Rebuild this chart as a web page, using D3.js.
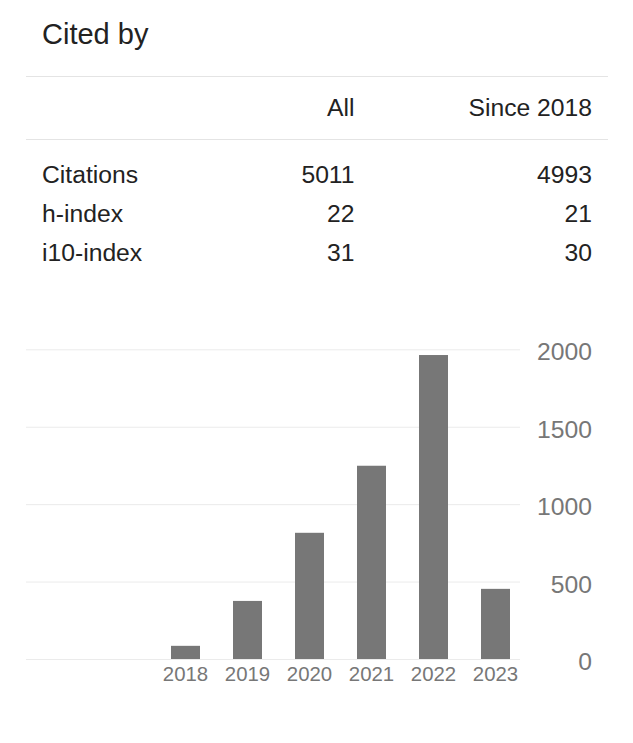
<!DOCTYPE html>
<html>
<head>
<meta charset="utf-8">
<script src="https://cdn.jsdelivr.net/npm/d3@7"></script>
<style>
  html, body { margin: 0; padding: 0; background: #fff; }
  svg { display: block; font-family: Arial, "Liberation Sans", sans-serif; }
</style>
</head>
<body>
<svg id="chart" width="633" height="743"></svg>
<script>
// ---- data ----
const title = "Cited by";
const columnHeaders = ["All", "Since 2018"];
const metricNames = ["Citations", "h-index", "i10-index"];
const allValues = [5011, 22, 31];
const sinceValues = [4993, 21, 30];

const years = ["2018", "2019", "2020", "2021", "2022", "2023"];
const citations = [85, 375, 815, 1248, 1963, 453];
const yTicks = [0, 500, 1000, 1500, 2000];

// ---- layout ----
const svg = d3.select("#chart");
const left = 42, ruleLeft = 26, ruleRight = 608;
const colAllRight = 354.5, colSinceRight = 592;

svg.append("text")
  .attr("x", left).attr("y", 44)
  .attr("font-size", 29).attr("fill", "#222")
  .text(title);

[76.5, 139.5].forEach(yy => {
  svg.append("line")
    .attr("x1", ruleLeft).attr("x2", ruleRight)
    .attr("y1", yy).attr("y2", yy)
    .attr("stroke", "#e4e4e4").attr("stroke-width", 1);
});

const colX = [colAllRight, colSinceRight];
svg.selectAll("text.head").data(columnHeaders).join("text")
  .attr("class", "head")
  .attr("x", (d, i) => colX[i]).attr("y", 116)
  .attr("text-anchor", "end")
  .attr("font-size", 24.7).attr("fill", "#222")
  .text(d => d);

const rowY = d3.scalePoint().domain(metricNames).range([183.3, 260.7]);
const rows = svg.selectAll("g.row").data(metricNames).join("g")
  .attr("class", "row")
  .attr("transform", d => `translate(0,${rowY(d)})`);
rows.append("text").attr("x", left).attr("font-size", 24.7).attr("fill", "#222").text(d => d);
rows.append("text").attr("x", colAllRight).attr("text-anchor", "end")
  .attr("font-size", 24.7).attr("fill", "#222").text((d, i) => allValues[i]);
rows.append("text").attr("x", colSinceRight).attr("text-anchor", "end")
  .attr("font-size", 24.7).attr("fill", "#222").text((d, i) => sinceValues[i]);

// ---- chart ----
const y = d3.scaleLinear().domain([0, 2000]).range([659, 349.3]);
const x = d3.scaleBand().domain(years).range([154.5, 526.5])
  .paddingInner(33 / 62).paddingOuter(33 / 124);

const gridLeft = 26, gridRight = 520;
const yAxisG = svg.append("g")
  .attr("transform", `translate(${gridLeft},0)`)
  .call(d3.axisRight(y).tickValues(yTicks).tickSize(gridRight - gridLeft).tickFormat(d3.format("d")));
yAxisG.select(".domain").remove();
yAxisG.selectAll(".tick line").attr("stroke", "#ebebeb").attr("stroke-width", 1);
yAxisG.selectAll(".tick text")
  .attr("x", colSinceRight - gridLeft)
  .attr("dy", "0.43em")
  .attr("text-anchor", "end")
  .attr("font-size", 24.7)
  .attr("font-family", "Arial, 'Liberation Sans', sans-serif")
  .attr("fill", "#777");

svg.selectAll("rect.bar").data(years).join("rect")
  .attr("class", "bar")
  .attr("x", d => x(d))
  .attr("width", x.bandwidth())
  .attr("y", (d, i) => y(citations[i]))
  .attr("height", (d, i) => y(0) - y(citations[i]))
  .attr("fill", "#777");

const xAxisG = svg.append("g")
  .attr("transform", `translate(0,${y(0)})`)
  .call(d3.axisBottom(x).tickSize(0).tickPadding(0));
xAxisG.select(".domain").remove();
xAxisG.selectAll(".tick text")
  .attr("y", 22).attr("dy", 0)
  .attr("font-size", 20.4)
  .attr("font-family", "Arial, 'Liberation Sans', sans-serif")
  .attr("fill", "#777");
</script>
</body>
</html>
